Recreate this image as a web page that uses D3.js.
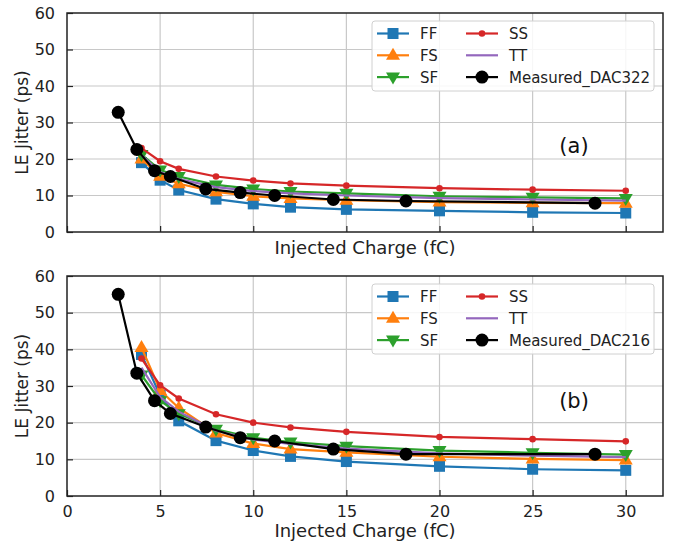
<!DOCTYPE html>
<html>
<head>
<meta charset="utf-8">
<script src="https://cdn.jsdelivr.net/npm/d3@7"></script>
<style>
  body { margin: 0; background: #fff; }
  svg { font-family: "DejaVu Sans", sans-serif; }
</style>
</head>
<body>
<svg id="chart" width="677" height="544"></svg>
<script>
// simulated corners are sampled at the same charges
const charges = [4, 5, 6, 8, 10, 12, 15, 20, 25, 30];
const measuredCharges = [2.75, 3.75, 4.7, 5.55, 7.45, 9.3, 11.15, 14.3, 18.2, 28.35];

// panel (a)
const ffA = [19.0, 14.2, 11.5, 9.0, 7.7, 6.8, 6.2, 5.8, 5.4, 5.2];
const fsA = [20.0, 15.3, 13.2, 11.0, 9.8, 9.2, 8.7, 8.2, 8.0, 7.9];
const sfA = [21.2, 17.0, 15.2, 12.9, 11.8, 11.1, 10.6, 9.8, 9.5, 9.2];
const ssA = [23.0, 19.4, 17.3, 15.2, 14.1, 13.3, 12.7, 12.0, 11.6, 11.3];
const ttA = [21.0, 16.4, 14.5, 12.3, 11.2, 10.6, 10.0, 9.3, 8.9, 8.6];
const measA = [32.8, 22.6, 16.8, 15.2, 11.8, 10.8, 10.0, 8.9, 8.5, 7.9];

// panel (b)
const ffB = [38.6, 27.5, 20.5, 15.1, 12.4, 10.8, 9.4, 8.1, 7.3, 7.0];
const fsB = [40.5, 28.8, 24.0, 17.2, 14.3, 12.8, 11.9, 10.7, 10.1, 9.8];
const sfB = [33.0, 26.0, 22.4, 18.2, 15.9, 14.7, 13.6, 12.4, 11.8, 11.3];
const ssB = [37.5, 30.2, 26.6, 22.3, 20.0, 18.7, 17.5, 16.1, 15.5, 14.9];
const ttB = [35.0, 27.0, 23.0, 17.8, 15.4, 14.2, 12.9, 11.6, 11.0, 10.6];
const measB = [55.0, 33.5, 26.0, 22.5, 18.8, 15.9, 15.0, 12.8, 11.4, 11.4];

const xTicks = [0, 5, 10, 15, 20, 25, 30];
const yTicks = [0, 10, 20, 30, 40, 50, 60];

const colors = { FF: '#1f77b4', FS: '#ff7f0e', SF: '#2ca02c', SS: '#d62728', TT: '#9467bd', M: '#000000' };

const svg = d3.select('#chart');
const left = 67, right = 663, width = right - left;

function drawPanel(top, bottom, series, measLabel, tag, tagY, showXLabels) {
  const x = d3.scaleLinear().domain([0, 32]).range([left, right]);
  const y = d3.scaleLinear().domain([0, 60]).range([bottom, top]);
  const g = svg.append('g');

  // grid
  g.selectAll('.vg').data(xTicks.slice(1)).enter().append('line')
    .attr('x1', d => x(d)).attr('x2', d => x(d))
    .attr('y1', top).attr('y2', bottom)
    .attr('stroke', '#c8c8c8').attr('stroke-width', 1.2);
  g.selectAll('.hg').data(yTicks.slice(1, -1)).enter().append('line')
    .attr('x1', left).attr('x2', right)
    .attr('y1', d => y(d)).attr('y2', d => y(d))
    .attr('stroke', '#c8c8c8').attr('stroke-width', 1.2);

  // axes with inward ticks
  const yAxis = g.append('g').attr('transform', `translate(${left},0)`)
    .call(d3.axisLeft(y).tickValues(yTicks).tickSizeInner(-6).tickSizeOuter(0).tickPadding(12));
  const xAxis = g.append('g').attr('transform', `translate(0,${bottom})`)
    .call(d3.axisBottom(x).tickValues(xTicks).tickSizeInner(-6).tickSizeOuter(0).tickPadding(10));
  [yAxis, xAxis].forEach(a => {
    a.select('.domain').remove();
    a.selectAll('line').attr('stroke', '#222').attr('stroke-width', 1.2);
    a.selectAll('text').attr('font-size', 16).attr('fill', '#222')
      .attr('font-family', '"DejaVu Sans", sans-serif');
  });
  if (!showXLabels) xAxis.selectAll('text').remove();

  g.append('rect').attr('x', left).attr('y', top).attr('width', width).attr('height', bottom - top)
    .attr('fill', 'none').attr('stroke', '#222').attr('stroke-width', 1.5);

  const line = d3.line().x(d => x(d[0])).y(d => y(d[1]));

  series.forEach(s => {
    const pts = s.xs.map((c, i) => [c, s.ys[i]]);
    g.append('path').datum(pts).attr('d', line)
      .attr('fill', 'none').attr('stroke', s.color).attr('stroke-width', 2.2);
    const m = g.selectAll(null).data(pts).enter();
    drawMarker(m, s.marker, s.color, d => x(d[0]), d => y(d[1]));
  });

  // legend
  const lx = 372, ly = top + 8;
  g.append('rect').attr('x', lx).attr('y', ly).attr('width', 282).attr('height', 70).attr('rx', 3)
    .attr('fill', 'rgba(255,255,255,0.85)').attr('stroke', '#d0d0d0');
  const entries = [
    { name: 'FF', col: 0, row: 0, marker: 'square', color: colors.FF },
    { name: 'FS', col: 0, row: 1, marker: 'up', color: colors.FS },
    { name: 'SF', col: 0, row: 2, marker: 'down', color: colors.SF },
    { name: 'SS', col: 1, row: 0, marker: 'dot', color: colors.SS },
    { name: 'TT', col: 1, row: 1, marker: 'none', color: colors.TT },
    { name: measLabel, col: 1, row: 2, marker: 'circle', color: colors.M }
  ];
  entries.forEach(e => {
    const x0 = e.col === 0 ? 377 : 466;
    const cy = ly + 12.5 + e.row * 21.8;
    g.append('line').attr('x1', x0).attr('x2', x0 + 32).attr('y1', cy).attr('y2', cy)
      .attr('stroke', e.color).attr('stroke-width', 2.2);
    drawMarker(g.selectAll(null).data([0]).enter(), e.marker, e.color, () => x0 + 16, () => cy);
    g.append('text').attr('x', x0 + 43).attr('y', cy + 5.5).attr('font-size', 15)
      .attr('fill', '#222').text(e.name);
  });

  g.append('text').attr('x', 574).attr('y', y(tagY))
    .attr('text-anchor', 'middle').attr('font-size', 21).attr('fill', '#111').text(tag);

  g.append('text').attr('x', (left + right) / 2).attr('y', bottom + (showXLabels ? 41 : 22))
    .attr('text-anchor', 'middle').attr('font-size', 18).attr('fill', '#222').text('Injected Charge (fC)');
  g.append('text').attr('transform', `translate(28,${(top + bottom) / 2}) rotate(-90)`)
    .attr('text-anchor', 'middle').attr('font-size', 17).attr('fill', '#222').text('LE Jitter (ps)');
}

function drawMarker(sel, type, color, fx, fy) {
  if (type === 'square') {
    sel.append('rect').attr('x', d => fx(d) - 5.5).attr('y', d => fy(d) - 5.5)
      .attr('width', 11).attr('height', 11).attr('fill', color);
  } else if (type === 'up' || type === 'down') {
    const s = type === 'up' ? -1 : 1;
    sel.append('path').attr('fill', color)
      .attr('d', d => {
        const cx = fx(d), cy = fy(d);
        return `M${cx},${cy + s * 7.5}L${cx - 7},${cy - s * 4.5}L${cx + 7},${cy - s * 4.5}Z`;
      });
  } else if (type === 'dot') {
    sel.append('circle').attr('cx', fx).attr('cy', fy).attr('r', 3.3).attr('fill', color);
  } else if (type === 'circle') {
    sel.append('circle').attr('cx', fx).attr('cy', fy).attr('r', 6.5).attr('fill', color);
  }
}

function makeSeries(ff, fs, sf, ss, tt, meas) {
  return [
    { xs: charges, ys: ff, color: colors.FF, marker: 'square' },
    { xs: charges, ys: fs, color: colors.FS, marker: 'up' },
    { xs: charges, ys: sf, color: colors.SF, marker: 'down' },
    { xs: charges, ys: ss, color: colors.SS, marker: 'dot' },
    { xs: charges, ys: tt, color: colors.TT, marker: 'none' },
    { xs: measuredCharges, ys: meas, color: colors.M, marker: 'circle' }
  ];
}

drawPanel(13, 232, makeSeries(ffA, fsA, sfA, ssA, ttA, measA), 'Measured_DAC322', '(a)', 21.6, false);
drawPanel(276, 496, makeSeries(ffB, fsB, sfB, ssB, ttB, measB), 'Measured_DAC216', '(b)', 24, true);
</script>
</body>
</html>
